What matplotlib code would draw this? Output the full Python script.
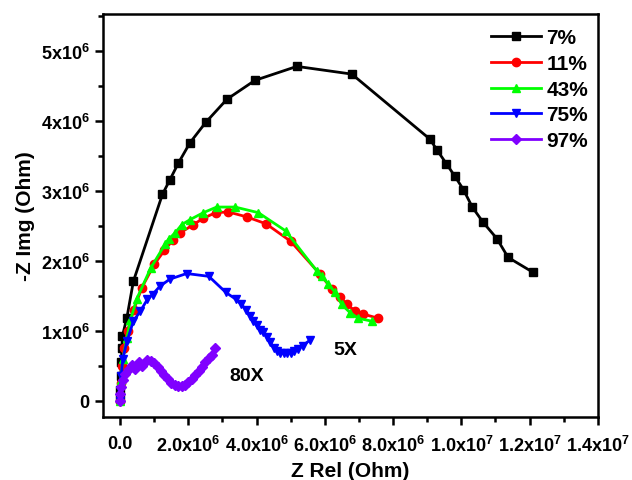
"""Nyquist plot of impedance at several humidity levels (75% scaled 5X, 97% scaled 80X)."""

import matplotlib
matplotlib.use("Agg")
import matplotlib.pyplot as plt  # noqa: E402
from matplotlib.ticker import FixedLocator, FuncFormatter, MultipleLocator  # noqa: E402

plt.rcParams.update({
    "font.family": ["Liberation Sans", "DejaVu Sans"],
    "font.weight": "bold",
    "mathtext.fontset": "custom",
    "mathtext.rm": "Liberation Sans:bold",
    "mathtext.bf": "Liberation Sans:bold",
    "mathtext.it": "Liberation Sans:bold",
})

# values in units of 1e6 Ohm
x_7 = [0.0, 0.01, 0.02, 0.04, 0.05, 0.07, 0.20, 0.39, 1.24, 1.46, 1.71, 2.05, 2.51, 3.13, 3.95,
       5.18, 6.79, 9.08, 9.28, 9.56, 9.81, 10.06, 10.32, 10.64, 11.04, 11.37, 12.09]
y_7 = [0.02, 0.15, 0.35, 0.55, 0.75, 0.93, 1.19, 1.71, 2.95, 3.16, 3.40, 3.69, 3.98, 4.31, 4.58,
       4.78, 4.67, 3.74, 3.59, 3.39, 3.21, 3.02, 2.77, 2.55, 2.32, 2.05, 1.84]

x_11 = [0.0, 0.02, 0.06, 0.12, 0.22, 0.40, 0.64, 1.00, 1.30, 1.55, 1.76, 2.15, 2.44, 2.80, 3.17,
        3.71, 4.28, 5.00, 5.86, 6.20, 6.45, 6.64, 6.88, 7.13, 7.57]
y_11 = [0.0, 0.25, 0.50, 0.75, 1.00, 1.30, 1.62, 1.95, 2.15, 2.30, 2.40, 2.52, 2.61, 2.69, 2.70,
        2.63, 2.53, 2.28, 1.81, 1.60, 1.48, 1.38, 1.29, 1.24, 1.18]

x_43 = [0.0, 0.02, 0.08, 0.20, 0.30, 0.49, 0.90, 1.32, 1.42, 1.61, 1.81, 2.05, 2.44, 2.83, 3.37,
        4.05, 4.85, 5.76, 5.91, 6.10, 6.30, 6.49, 6.74, 6.98, 7.37]
y_43 = [0.0, 0.30, 0.60, 0.90, 1.15, 1.46, 1.90, 2.24, 2.31, 2.40, 2.52, 2.59, 2.69, 2.77, 2.77,
        2.69, 2.43, 1.86, 1.78, 1.67, 1.55, 1.38, 1.26, 1.18, 1.14]

x_75 = [0.0, 0.01, 0.03, 0.08, 0.20, 0.39, 0.59, 0.80, 0.95, 1.17, 1.46, 1.95, 2.60, 3.10, 3.40,
        3.55, 3.70, 3.80, 3.90, 4.00, 4.10, 4.20, 4.30, 4.40, 4.50, 4.60, 4.70, 4.80, 4.90, 5.00,
        5.10, 5.20, 5.35, 5.57]
y_75 = [0.0, 0.15, 0.35, 0.60, 0.85, 1.14, 1.28, 1.45, 1.52, 1.64, 1.74, 1.82, 1.78, 1.55, 1.45,
        1.38, 1.30, 1.22, 1.14, 1.08, 1.02, 0.98, 0.92, 0.84, 0.76, 0.72, 0.69, 0.68, 0.68, 0.69,
        0.71, 0.74, 0.79, 0.87]

x_97 = [0.0, 0.01, 0.03, 0.08, 0.15, 0.25, 0.35, 0.45, 0.55, 0.65, 0.78, 0.90, 1.00, 1.10, 1.20,
        1.30, 1.40, 1.50, 1.60, 1.70, 1.80, 1.90, 2.00, 2.10, 2.20, 2.30, 2.40, 2.50, 2.60, 2.70,
        2.78]
y_97 = [0.0, 0.10, 0.20, 0.30, 0.38, 0.45, 0.52, 0.45, 0.55, 0.50, 0.58, 0.57, 0.54, 0.49, 0.43,
        0.37, 0.31, 0.26, 0.23, 0.21, 0.21, 0.23, 0.27, 0.31, 0.37, 0.43, 0.49, 0.55, 0.61, 0.66,
        0.76]

SERIES = [
    ("7%", x_7, y_7, "black", "s"),
    ("11%", x_11, y_11, "#ff0000", "o"),
    ("43%", x_43, y_43, "#00ff00", "^"),
    ("75%", x_75, y_75, "#0000ff", "v"),
    ("97%", x_97, y_97, "#8000ff", "D"),
]

x_ticks = [0, 2e6, 4e6, 6e6, 8e6, 1e7, 1.2e7, 1.4e7]
x_labels = ["0.0", r"$2.0x10^{6}$", r"$4.0x10^{6}$", r"$6.0x10^{6}$", r"$8.0x10^{6}$",
            r"$1.0x10^{7}$", r"$1.2x10^{7}$", r"$1.4x10^{7}$"]
y_ticks = [0, 1e6, 2e6, 3e6, 4e6, 5e6]
y_labels = ["0", r"$1x10^{6}$", r"$2x10^{6}$", r"$3x10^{6}$", r"$4x10^{6}$", r"$5x10^{6}$"]


def main():
    fig = plt.figure(figsize=(6.32, 4.81), dpi=100)
    ax = fig.add_axes([0.163, 0.131, 0.783, 0.838])

    for name, xs, ys, color, marker in SERIES:
        ax.plot([v * 1e6 for v in xs], [v * 1e6 for v in ys], color=color, marker=marker,
                ms=6 if marker != "D" else 5.5, lw=2, label=name)

    ax.text(6.6e6, 0.74e6, "5X", fontsize=14, fontweight="bold", ha="center", va="center")
    ax.text(3.72e6, 0.36e6, "80X", fontsize=14, fontweight="bold", ha="center", va="center")

    ax.set_xlim(-0.5e6, 1.4e7)
    ax.set_ylim(-0.23e6, 5.53e6)
    ax.xaxis.set_major_locator(FixedLocator(x_ticks))
    ax.xaxis.set_major_formatter(FuncFormatter(lambda v, p: x_labels[p] if p is not None and p < len(x_labels) else ""))
    ax.xaxis.set_minor_locator(MultipleLocator(1e6))
    ax.yaxis.set_major_locator(FixedLocator(y_ticks))
    ax.yaxis.set_major_formatter(FuncFormatter(lambda v, p: y_labels[p] if p is not None and p < len(y_labels) else ""))
    ax.yaxis.set_minor_locator(MultipleLocator(0.5e6))

    for s in ax.spines.values():
        s.set_linewidth(1.8)
    ax.tick_params(which="major", direction="out", length=6, width=1.8, labelsize=13)
    ax.tick_params(which="minor", direction="out", length=3.5, width=1.8)
    ax.tick_params(axis="x", pad=7)

    ax.set_xlabel("Z Rel (Ohm)", fontsize=15, fontweight="bold", labelpad=4)
    ax.set_ylabel("-Z Img (Ohm)", fontsize=15, fontweight="bold", labelpad=4)

    ax.legend(loc="upper right", bbox_to_anchor=(1.01, 1.0), frameon=False, handlelength=2.4,
              handletextpad=0.25, labelspacing=0.32, borderaxespad=0.3,
              prop={"weight": "bold", "size": 15})

    fig.savefig("out.png", dpi=100)


if __name__ == "__main__":
    main()
